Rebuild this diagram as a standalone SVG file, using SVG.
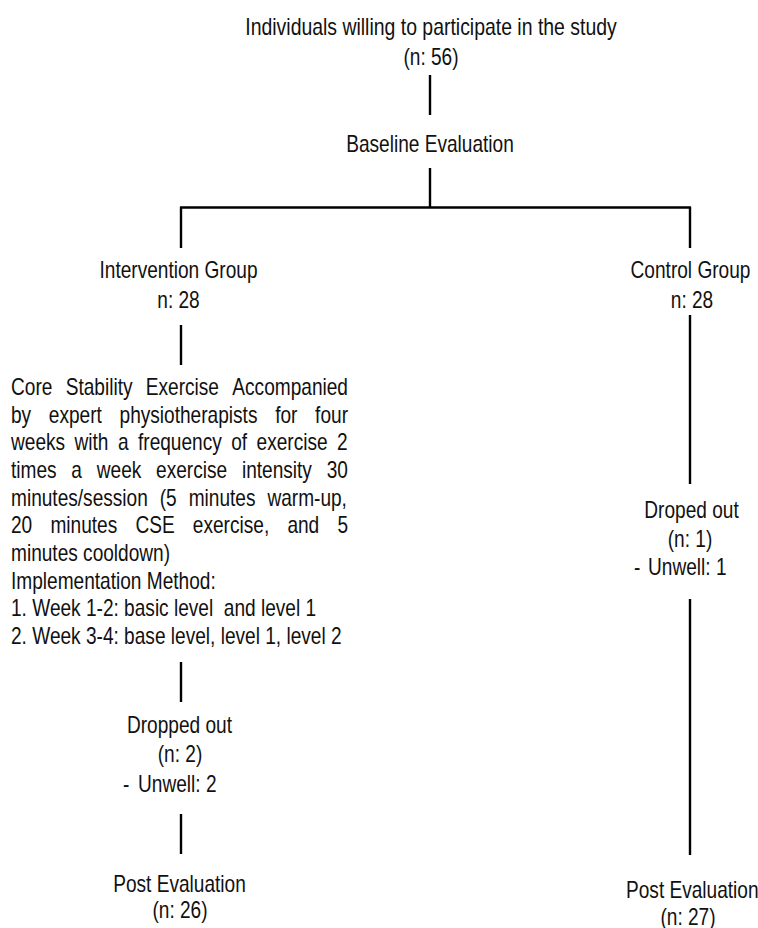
<svg xmlns="http://www.w3.org/2000/svg" width="758" height="928" viewBox="0 0 758 928">
<style>
  text { font-family: "Liberation Sans", Arial, sans-serif; font-size: 23px; fill: #111; }
  .c { text-anchor: middle; }
  .ln { stroke: #000; stroke-width: 2.4; fill: none; }
</style>
<rect width="758" height="928" fill="#fff"/>
<g id="connectors">
  <line class="ln" x1="430" y1="75" x2="430" y2="115"/>
  <line class="ln" x1="430" y1="168" x2="430" y2="208"/>
  <line class="ln" x1="180" y1="207.5" x2="691" y2="207.5"/>
  <line class="ln" x1="181" y1="207" x2="181" y2="248"/>
  <line class="ln" x1="690" y1="207" x2="690" y2="248"/>
  <line class="ln" x1="181" y1="325" x2="181" y2="365"/>
  <line class="ln" x1="181" y1="662" x2="181" y2="702"/>
  <line class="ln" x1="181" y1="814" x2="181" y2="854"/>
  <line class="ln" x1="690" y1="315" x2="690" y2="484"/>
  <line class="ln" x1="690" y1="599" x2="690" y2="855"/>
</g>
<g id="participants">
  <text class="c" transform="matrix(0.845,0,0,1,431,0)" x="0" y="35">Individuals willing to participate in the study</text>
  <text class="c" transform="matrix(0.83,0,0,1,431,0)" x="0" y="65">(n: 56)</text>
</g>
<g id="baseline">
  <text class="c" transform="matrix(0.83,0,0,1,430,0)" x="0" y="152">Baseline Evaluation</text>
</g>
<g id="intervention">
  <text class="c" transform="matrix(0.83,0,0,1,178.5,0)" x="0" y="278">Intervention Group</text>
  <text class="c" transform="matrix(0.83,0,0,1,178.5,0)" x="0" y="308">n: 28</text>
</g>
<g id="control">
  <text class="c" transform="matrix(0.83,0,0,1,690.5,0)" x="0" y="278">Control Group</text>
  <text class="c" transform="matrix(0.83,0,0,1,692,0)" x="0" y="308">n: 28</text>
</g>
<g id="cse" transform="matrix(0.83,0,0,1,11,0)">
  <text y="395"><tspan x="0">Core</tspan><tspan x="65.9">Stability</tspan><tspan x="162.4">Exercise</tspan><tspan x="266.7">Accompanied</tspan></text>
  <text y="422.7"><tspan x="0">by</tspan><tspan x="45.6">expert</tspan><tspan x="130.8">physiotherapists</tspan><tspan x="318.3">for</tspan><tspan x="366.4">four</tspan></text>
  <text x="0" y="450.4" word-spacing="5">weeks with a frequency of exercise 2</text>
  <text y="478"><tspan x="0">times</tspan><tspan x="72.7">a</tspan><tspan x="103.3">week</tspan><tspan x="174.8">exercise</tspan><tspan x="278.2">intensity</tspan><tspan x="380.4">30</tspan></text>
  <text x="0" y="505.7" word-spacing="8">minutes/session (5 minutes warm-up,</text>
  <text y="533.4"><tspan x="0">20</tspan><tspan x="47.5">minutes</tspan><tspan x="149.9">CSE</tspan><tspan x="219.1">exercise,</tspan><tspan x="333">and</tspan><tspan x="393.3">5</tspan></text>
  <text x="0" y="561">minutes cooldown)</text>
  <text x="0" y="588.8">Implementation Method:</text>
  <text x="0" y="616.5" xml:space="preserve">1. Week 1-2: basic level  and level 1</text>
  <text x="0" y="644">2. Week 3-4: base level, level 1, level 2</text>
</g>
<g id="dropout-intervention">
  <text class="c" transform="matrix(0.83,0,0,1,179.5,0)" x="0" y="733">Dropped out</text>
  <text class="c" transform="matrix(0.83,0,0,1,180,0)" x="0" y="762">(n: 2)</text>
  <text transform="matrix(0.83,0,0,1,123,0)" y="792"><tspan x="0">-</tspan><tspan x="18.1">Unwell: 2</tspan></text>
</g>
<g id="post-intervention">
  <text class="c" transform="matrix(0.83,0,0,1,179.5,0)" x="0" y="892">Post Evaluation</text>
  <text class="c" transform="matrix(0.83,0,0,1,180,0)" x="0" y="918">(n: 26)</text>
</g>
<g id="dropout-control">
  <text class="c" transform="matrix(0.83,0,0,1,691.5,0)" x="0" y="518">Droped out</text>
  <text class="c" transform="matrix(0.83,0,0,1,690,0)" x="0" y="547">(n: 1)</text>
  <text transform="matrix(0.83,0,0,1,634,0)" y="575"><tspan x="0">-</tspan><tspan x="16.9">Unwell: 1</tspan></text>
</g>
<g id="post-control">
  <text transform="matrix(0.83,0,0,1,626,0)" x="0" y="898">Post Evaluation</text>
  <text class="c" transform="matrix(0.83,0,0,1,688,0)" x="0" y="925">(n: 27)</text>
</g>
</svg>
